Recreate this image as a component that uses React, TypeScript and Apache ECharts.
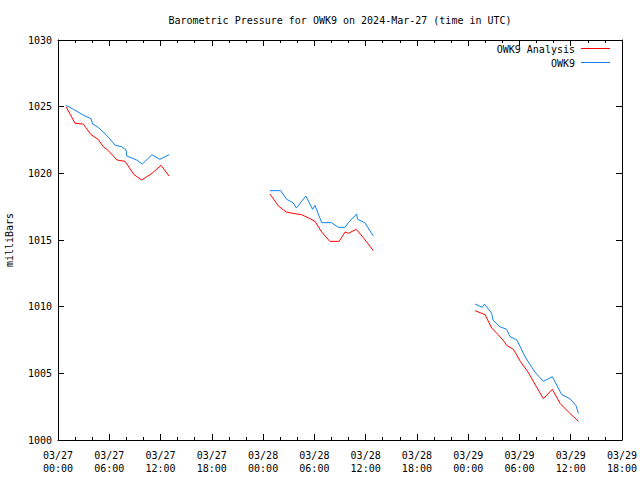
import React, { useEffect, useRef } from "react";
import * as echarts from "echarts";

// hours since 2024-03-27 00:00 UTC, pressure in milliBars
const analysisSeg1: [number, number][] = [
  [0.94, 1025.0], [2.0, 1023.75], [2.96, 1023.7], [3.86, 1022.9], [4.7, 1022.55],
  [5.3, 1022.0], [5.9, 1021.7], [6.9, 1021.0], [7.84, 1020.9], [8.9, 1019.9],
  [9.8, 1019.5], [11.0, 1020.0], [12.05, 1020.6], [13.0, 1019.8],
];
const analysisSeg2: [number, number][] = [
  [24.8, 1018.45], [25.8, 1017.55], [26.7, 1017.1], [27.5, 1017.0], [28.5, 1016.9],
  [29.5, 1016.6], [30.07, 1016.4], [30.86, 1015.6], [31.8, 1014.9], [32.9, 1014.9],
  [33.6, 1015.6], [33.97, 1015.5], [34.9, 1015.8], [35.7, 1015.2], [36.9, 1014.2],
];
const analysisSeg3: [number, number][] = [
  [48.8, 1009.7], [49.97, 1009.4], [50.75, 1008.4], [51.5, 1007.9], [52.2, 1007.4],
  [52.5, 1007.1], [53.3, 1006.8], [54.1, 1005.9], [55.0, 1005.1], [55.8, 1004.2],
  [56.8, 1003.1], [57.85, 1003.8], [58.75, 1002.75], [59.9, 1002.0], [60.9, 1001.4],
];

const obsSeg1: [number, number][] = [
  [0.94, 1025.1], [1.8, 1024.8], [3.16, 1024.3], [3.86, 1024.1], [4.06, 1023.7],
  [4.7, 1023.45], [5.3, 1023.1], [5.9, 1022.7], [6.7, 1022.1], [7.45, 1022.0],
  [7.96, 1021.75], [8.05, 1021.3], [9.2, 1021.0], [9.87, 1020.7], [11.0, 1021.4],
  [11.9, 1021.05], [13.0, 1021.4],
];
const obsSeg2: [number, number][] = [
  [24.8, 1018.7], [26.06, 1018.7], [26.76, 1018.05], [27.5, 1017.8], [27.9, 1017.4],
  [29.0, 1018.3], [29.8, 1017.3], [30.07, 1017.6], [30.86, 1016.3], [32.0, 1016.3],
  [32.8, 1015.95], [33.6, 1015.95], [33.97, 1016.3], [34.95, 1016.95], [35.05, 1016.55],
  [35.9, 1016.3], [36.9, 1015.3],
];
const obsSeg3: [number, number][] = [
  [48.8, 1010.2], [49.65, 1009.95], [49.9, 1010.2], [50.75, 1009.5], [50.9, 1009.0],
  [51.7, 1008.5], [52.5, 1008.3], [52.9, 1007.75], [53.7, 1007.5], [54.65, 1006.25],
  [55.8, 1005.1], [56.8, 1004.4], [57.85, 1004.75], [58.95, 1003.4], [59.9, 1003.1],
  [60.6, 1002.6], [60.9, 1002.0],
];

const titleText = "Barometric Pressure for OWK9 on 2024-Mar-27 (time in UTC)";
const seriesNames = ["OWK9 Analysis", "OWK9"];
const seriesColors = ["#ff0000", "#1080f0"];
const yTicks = [1000, 1005, 1010, 1015, 1020, 1025, 1030];
const xStartDay = 27;
const xMaxHours = 66;

const FONT = "'DejaVu Sans Mono', monospace";

function joinSegments(segs: [number, number][][]): any[] {
  const out: any[] = [];
  segs.forEach((s, i) => {
    if (i > 0) out.push("-");
    s.forEach((p) => out.push(p));
  });
  return out;
}

function fmtX(v: number): string {
  const day = xStartDay + Math.floor(v / 24);
  const hr = Math.round(v % 24);
  return "03/" + String(day).padStart(2, "0") + "\n" + String(hr).padStart(2, "0") + ":00";
}

export default function App() {
  const ref = useRef<HTMLDivElement>(null);
  useEffect(() => {
    if (!ref.current) return;
    const chart = echarts.init(ref.current, undefined, { renderer: "svg" });
    const axisLineStyle = { color: "#000", width: 1 };
    const tickStyle = { color: "#000", width: 1 };
    const left = 58, right = 622, top = 40, bottom = 440;
    chart.setOption({
      animation: false,
      backgroundColor: "#fff",
      grid: {
        left, top, right: 640 - right, bottom: 480 - bottom,
        containLabel: false, outerBoundsMode: "none",
      },
      xAxis: [
        {
          type: "value", min: 0, max: xMaxHours, interval: 6,
          axisLine: { show: true, onZero: false, lineStyle: axisLineStyle },
          axisTick: { show: true, inside: true, length: 6, lineStyle: tickStyle },
          minorTick: { show: true, splitNumber: 3, length: 3, lineStyle: tickStyle },
          splitLine: { show: false },
          axisLabel: {
            formatter: fmtX, color: "#000", fontFamily: FONT, fontSize: 10,
            lineHeight: 13, margin: 9, showMinLabel: true, showMaxLabel: true,
          },
        },
        {
          type: "value", position: "top", min: 0, max: xMaxHours, interval: 6,
          axisLine: { show: true, onZero: false, lineStyle: axisLineStyle },
          axisTick: { show: true, inside: true, length: 6, lineStyle: tickStyle },
          minorTick: { show: true, splitNumber: 3, length: 3, lineStyle: tickStyle },
          splitLine: { show: false },
          axisLabel: { show: false },
        },
      ],
      yAxis: [
        {
          type: "value", min: yTicks[0], max: yTicks[yTicks.length - 1], interval: 5,
          name: "milliBars", nameLocation: "middle", nameGap: 44, nameRotate: 90,
          nameTextStyle: { color: "#000", fontFamily: FONT, fontSize: 10 },
          axisLine: { show: true, onZero: false, lineStyle: axisLineStyle },
          axisTick: { show: true, inside: true, length: 6, lineStyle: tickStyle },
          splitLine: { show: false },
          axisLabel: {
            color: "#000", fontFamily: FONT, fontSize: 10, margin: 6,
            formatter: (v: number) => String(v),
          },
        },
        {
          type: "value", position: "right", min: yTicks[0], max: yTicks[yTicks.length - 1], interval: 5,
          axisLine: { show: true, onZero: false, lineStyle: axisLineStyle },
          axisTick: { show: true, inside: true, length: 6, lineStyle: tickStyle },
          splitLine: { show: false },
          axisLabel: { show: false },
        },
      ],
      series: [
        {
          name: seriesNames[0], type: "line", xAxisIndex: 0, yAxisIndex: 0,
          data: joinSegments([analysisSeg1, analysisSeg2, analysisSeg3]),
          showSymbol: false, symbol: "none", connectNulls: false,
          lineStyle: { color: seriesColors[0], width: 1 }, itemStyle: { color: seriesColors[0] },
        },
        {
          name: seriesNames[1], type: "line", xAxisIndex: 0, yAxisIndex: 0,
          data: joinSegments([obsSeg1, obsSeg2, obsSeg3]),
          showSymbol: false, symbol: "none", connectNulls: false,
          lineStyle: { color: seriesColors[1], width: 1 }, itemStyle: { color: seriesColors[1] },
        },
      ],
      graphic: [
        {
          type: "text", x: (left + right) / 2, y: 20,
          style: { text: titleText, fill: "#000", font: "10px " + FONT, textAlign: "center", textVerticalAlign: "middle" },
        },
        {
          type: "text", x: 575, y: 49,
          style: { text: seriesNames[0], fill: "#000", font: "10px " + FONT, textAlign: "right", textVerticalAlign: "middle" },
        },
        { type: "line", shape: { x1: 581, y1: 48.5, x2: 610, y2: 48.5 }, style: { stroke: seriesColors[0], lineWidth: 1 } },
        {
          type: "text", x: 575, y: 63,
          style: { text: seriesNames[1], fill: "#000", font: "10px " + FONT, textAlign: "right", textVerticalAlign: "middle" },
        },
        { type: "line", shape: { x1: 581, y1: 62.5, x2: 610, y2: 62.5 }, style: { stroke: seriesColors[1], lineWidth: 1 } },
      ],
    });
    return () => chart.dispose();
  }, []);
  return <div ref={ref} style={{ width: 640, height: 480, position: "absolute", left: 0, top: 0 }} />;
}
